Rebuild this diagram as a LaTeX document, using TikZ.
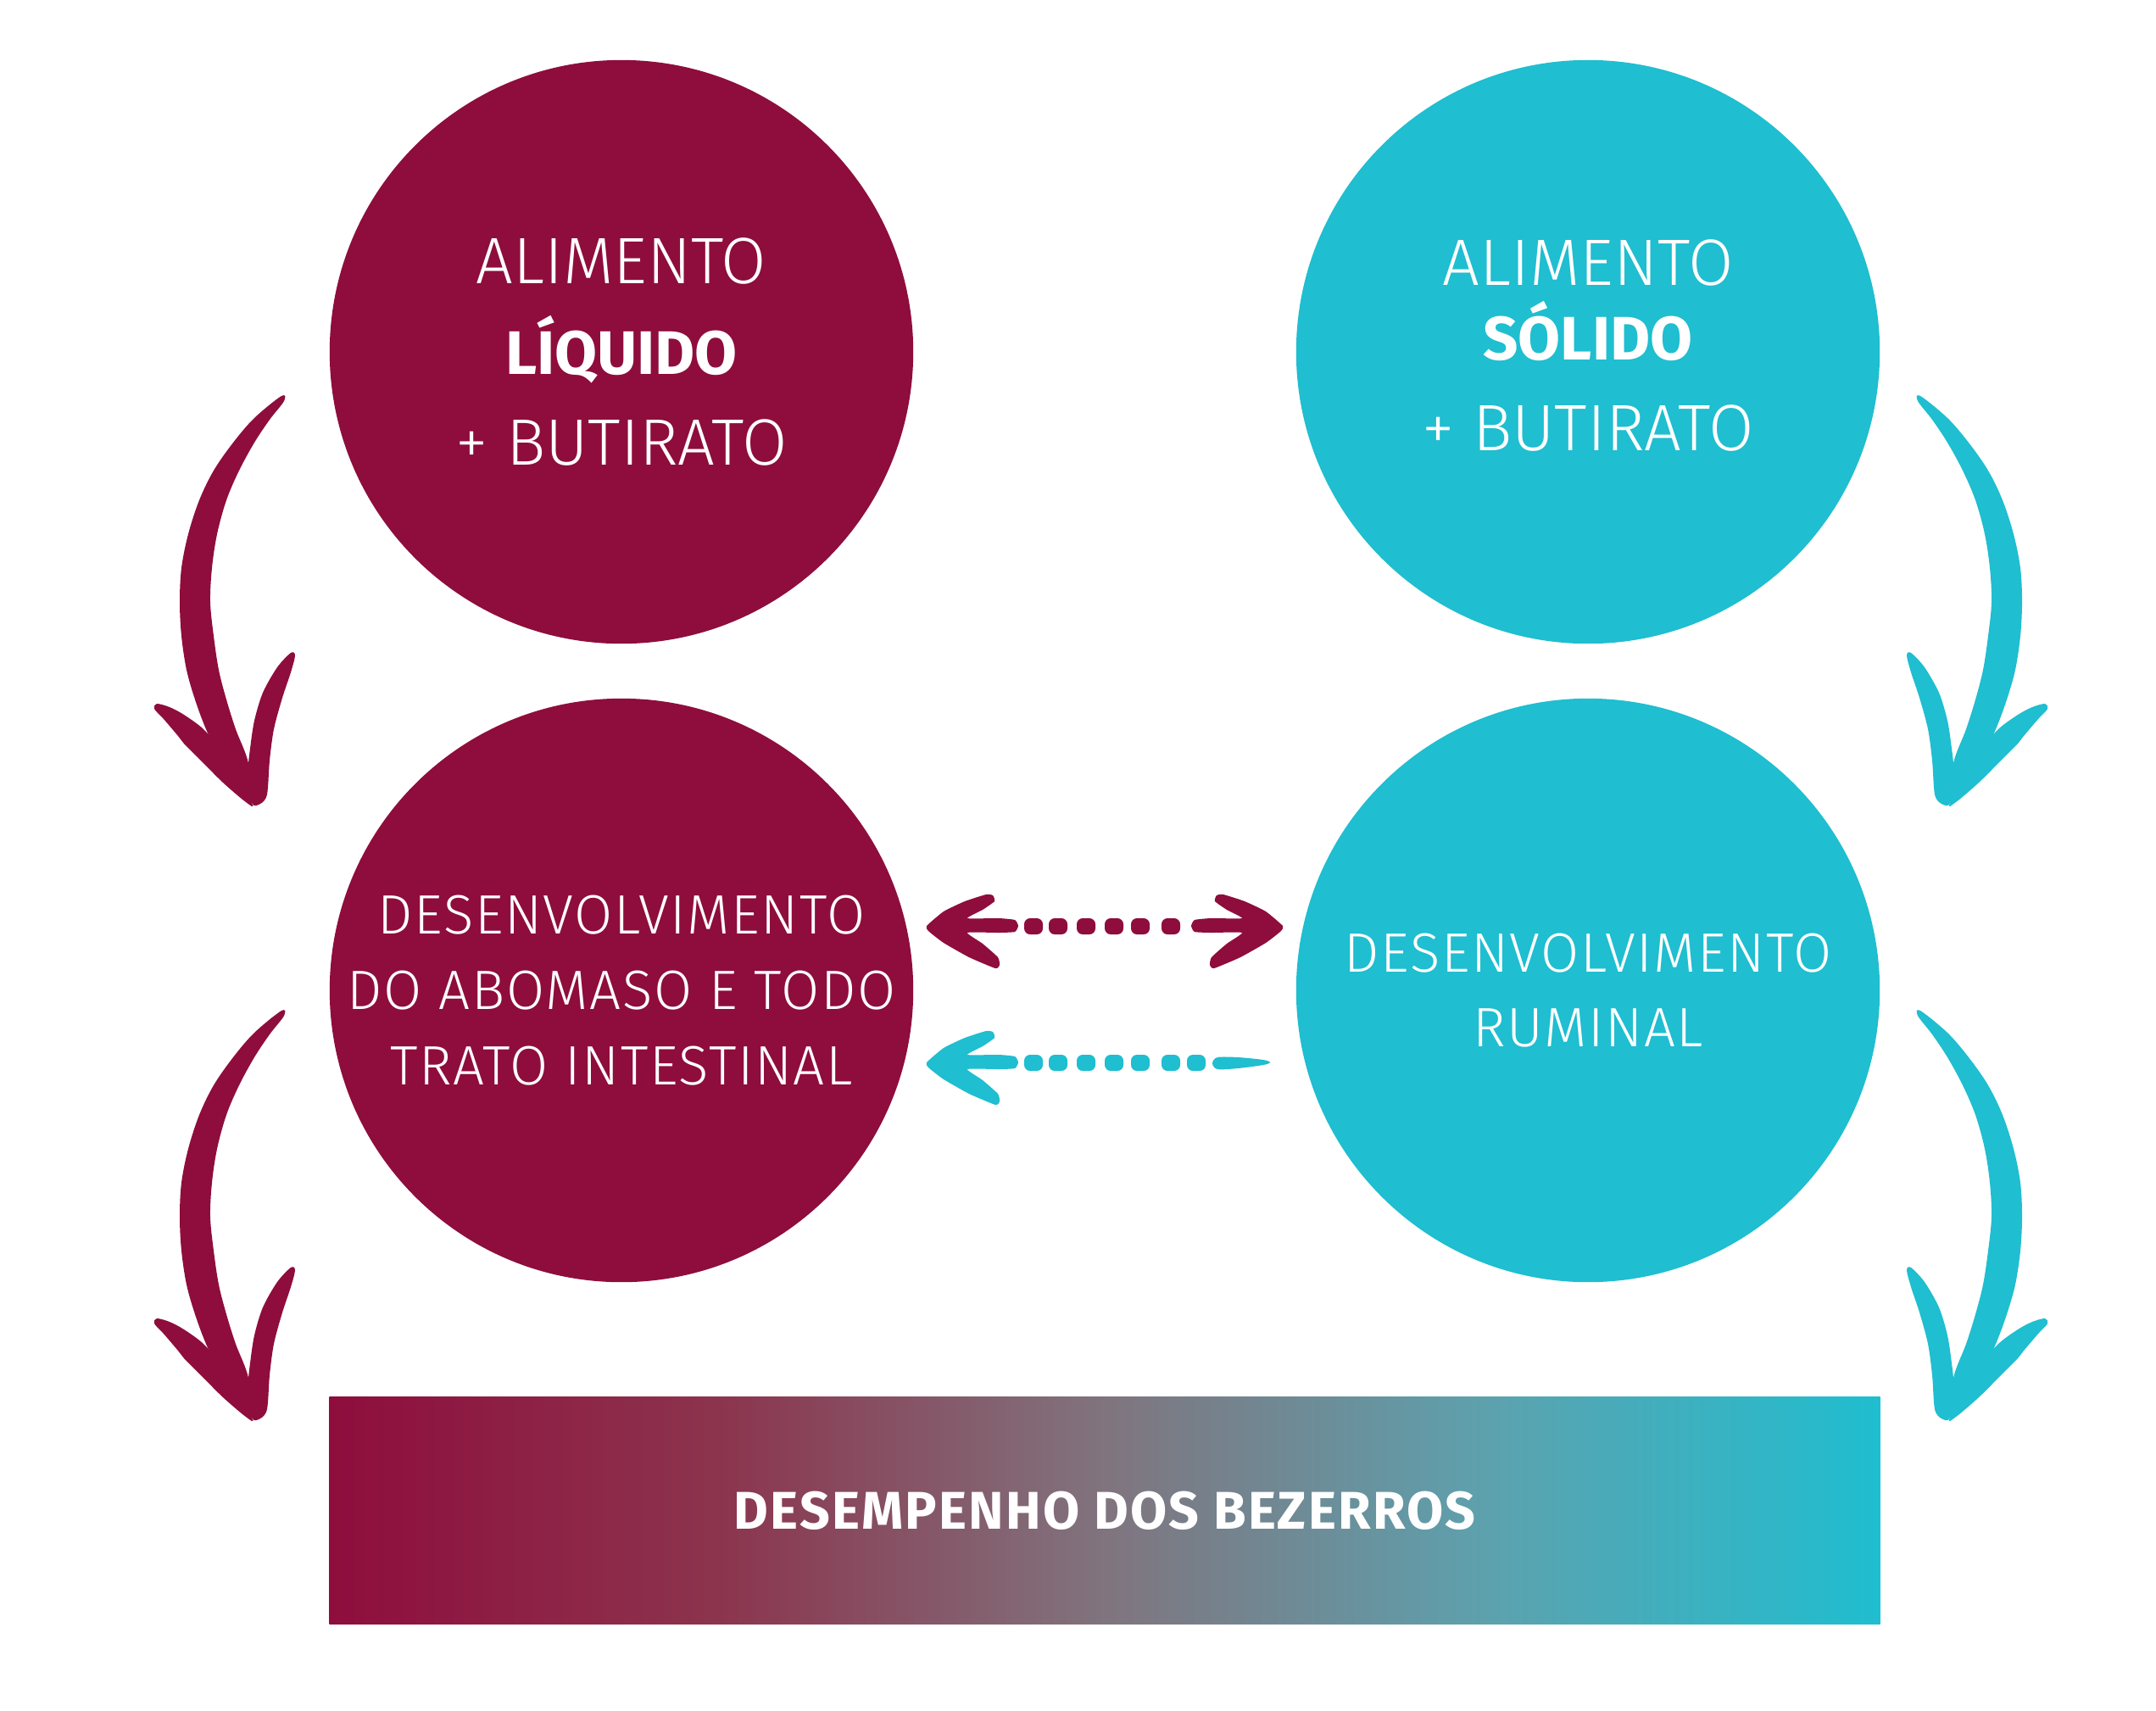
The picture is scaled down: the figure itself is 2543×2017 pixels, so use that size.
\documentclass[tikz,border=0pt]{standalone}
\usepackage{fontspec}
\setmainfont{Fira Sans Light}[BoldFont={Fira Sans Bold}]
\definecolor{wine}{RGB}{142,13,60}
\definecolor{lagoon}{RGB}{31,190,208}
\definecolor{barA}{RGB}{140,52,78}
\definecolor{greymid}{RGB}{128,116,126}
\definecolor{barC}{RGB}{92,162,174}
\pgfdeclarehorizontalshading{barshade}{100bp}{color(0bp)=(wine); color(25bp)=(wine); color(37.5bp)=(barA); color(50bp)=(greymid); color(62.5bp)=(barC); color(75bp)=(lagoon); color(100bp)=(lagoon)}
\tikzset{
    bubble/.style={circle, minimum size=6.88cm, inner sep=0pt, text=white, align=center},
    bigfont/.style={font=\fontsize{22}{30.3}\selectfont},
    smallfont/.style={font=\fontsize{18.6}{25.2}\selectfont\addfontfeatures{LetterSpace=2.5}},
    pip/.style={rounded corners=2pt},
    bigarrow/.pic={
        \fill plot[smooth cycle, tension=0.55] coordinates {(32,-473) (0,-447) (-25,-418) (-48,-385) (-65,-350) (-78,-310) (-86,-270) (-88,-230) (-86,-190) (-80,-150) (-70,-115) (-57,-80) (-38,-40) (-18,-5) (-3,7) (-7,-40) (-22,-80) (-33,-115) (-42,-150) (-48,-190) (-52,-230) (-50,-270) (-44,-310) (-33,-350) (-18,-385) (0,-418) (18,-445) (35,-467)};
        \fill plot[smooth cycle, tension=0.5] coordinates {(-115,-110) (-100,-106) (-83,-97) (-60,-80) (-40,-55) (-3,7) (-10,6) (-37,-17) (-63,-43) (-83,-63) (-90,-72) (-107,-92) (-118,-104)};
        \fill plot[smooth cycle, tension=0.5] coordinates {(48,-167) (43,-147) (33,-117) (23,-80) (18,-43) (15,-3) (7,8) (-3,7) (-7,-33) (-5,-57) (0,-90) (10,-123) (27,-153) (43,-170)};
    },
    flathead/.pic={
        \fill plot[smooth cycle, tension=0.3] coordinates {(0,0) (20,-17) (45,-29) (70,-37) (78,-36) (80,-29) (66,-19) (48,-9) (85,-9) (104,-7) (108,0) (104,7) (85,8) (48,8) (66,21) (84,37) (86,46) (81,50) (50,37) (20,20) (2,6)};
    }
}
\begin{document}
\begin{tikzpicture}[x=0.01cm, y=-0.01cm]
    \useasboundingbox (0,0) rectangle (2543,2017);

    \node[bubble, bigfont, fill=wine] (LQ) at (733,415) {ALIMENTO\\\textbf{\fontsize{20.6}{30.3}\selectfont LÍQUIDO}\\+ BUTIRATO};
    \node[bubble, bigfont, fill=lagoon] (SO) at (1873,415) {ALIMENTO\\[-5.1pt]\textbf{\fontsize{20.6}{30.3}\selectfont SÓLIDO}\\+ BUTIRATO\rule[-4.6pt]{0pt}{4.6pt}};
    \node[bubble, smallfont, fill=wine] (AB) at (733,1168) {DESENVOLVIMENTO\\DO ABOMASO E TODO\\TRATO INTESTINAL};
    \node[bubble, smallfont, fill=lagoon] (RU) at (1873,1168) {DESENVOLVIMENTO\\RUMINAL};

    \node[shading=barshade, minimum width=18.28cm, minimum height=2.67cm, inner sep=0pt, text=white, font=\bfseries\fontsize{17.8}{20}\selectfont\addfontfeatures{LetterSpace=3.5}] (DE) at (1303,1781.5) {DESEMPENHO DOS BEZERROS};

    \coordinate (TL) at (300,940);
    \coordinate (BL) at (300,1665);
    \coordinate (TR) at (2297,940);
    \coordinate (BR) at (2297,1665);
    \pic[color=wine] at (TL) {bigarrow};
    \pic[color=wine] at (BL) {bigarrow};
    \pic[color=lagoon, xscale=-1] at (TR) {bigarrow};
    \pic[color=lagoon, xscale=-1] at (BR) {bigarrow};

    \coordinate (HA) at (1093,1092);
    \coordinate (HB) at (1513,1092);
    \coordinate (HC) at (1093,1253);
    \pic[color=wine] at (HA) {flathead};
    \pic[color=wine, xscale=-1] at (HB) {flathead};
    \pic[color=lagoon] at (HC) {flathead};
    \foreach \x in {1219,1248,1281,1314,1345,1381}
        \fill[wine, pip] (\x-11,1083) rectangle ++(22,19);
    \foreach \x in {1219,1248,1281,1314,1345,1381,1411}
        \fill[lagoon, pip] (\x-11,1244) rectangle ++(22,19);
    \fill[lagoon] plot[smooth cycle, tension=0.5] coordinates {(1430,1254) (1436,1247) (1460,1247) (1490,1250) (1498,1253) (1490,1256) (1460,1260) (1436,1261)};
\end{tikzpicture}
\end{document}
